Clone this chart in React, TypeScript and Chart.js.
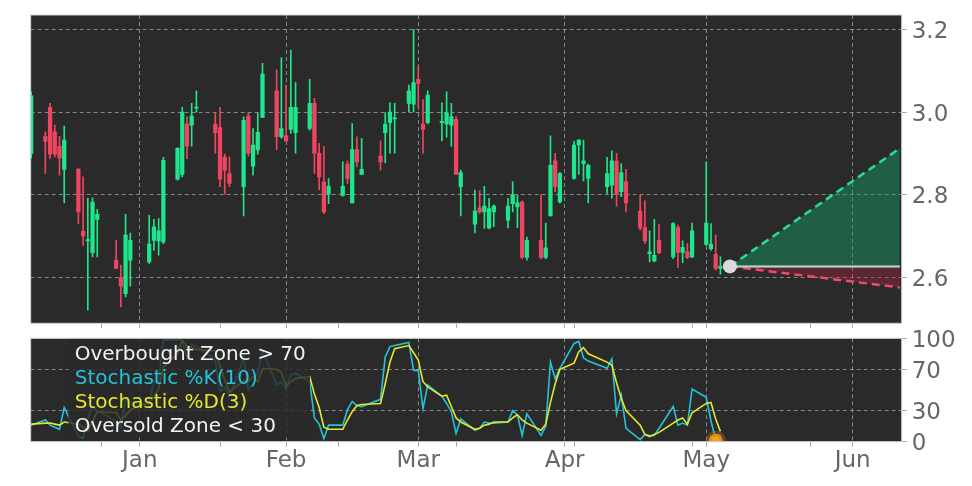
import React, { useEffect, useRef } from "react";
import { Chart, registerables } from "chart.js";

Chart.register(...registerables);

// ---------- data ----------
const dates = [
  "2022-12-09","2022-12-12","2022-12-13","2022-12-14","2022-12-15","2022-12-16",
  "2022-12-19","2022-12-20","2022-12-21","2022-12-22","2022-12-23",
  "2022-12-27","2022-12-28","2022-12-29","2022-12-30",
  "2023-01-03","2023-01-04","2023-01-05","2023-01-06",
  "2023-01-09","2023-01-10","2023-01-11","2023-01-12","2023-01-13",
  "2023-01-17","2023-01-18","2023-01-19","2023-01-20",
  "2023-01-23","2023-01-24","2023-01-25","2023-01-26","2023-01-27",
  "2023-01-30","2023-01-31","2023-02-01","2023-02-02","2023-02-03",
  "2023-02-06","2023-02-07","2023-02-08","2023-02-09","2023-02-10",
  "2023-02-13","2023-02-14","2023-02-15","2023-02-16","2023-02-17",
  "2023-02-21","2023-02-22","2023-02-23","2023-02-24",
  "2023-02-27","2023-02-28","2023-03-01","2023-03-02","2023-03-03",
  "2023-03-06","2023-03-07","2023-03-08","2023-03-09","2023-03-10",
  "2023-03-13","2023-03-14","2023-03-15","2023-03-16","2023-03-17",
  "2023-03-20","2023-03-21","2023-03-22","2023-03-23","2023-03-24",
  "2023-03-27","2023-03-28","2023-03-29","2023-03-30","2023-03-31",
  "2023-04-03","2023-04-04","2023-04-05","2023-04-06",
  "2023-04-10","2023-04-11","2023-04-12","2023-04-13","2023-04-14",
  "2023-04-17","2023-04-18","2023-04-19","2023-04-20","2023-04-21",
  "2023-04-24","2023-04-25","2023-04-26","2023-04-27","2023-04-28",
  "2023-05-01","2023-05-02","2023-05-03","2023-05-04",
];

const opens = [
  2.900,2.942,3.012,2.953,2.918,2.862,
  2.863,2.712,2.689,2.660,2.741,
  2.642,2.600,2.561,2.642,
  2.638,2.690,2.689,2.686,
  2.838,2.850,2.972,2.969,3.010,
  2.972,2.963,2.892,2.852,
  2.820,2.991,2.870,2.909,2.988,
  3.052,2.941,2.943,2.959,2.951,
  2.961,3.022,2.901,2.832,2.802,
  2.799,2.875,2.781,2.910,2.850,
  2.894,2.951,2.975,2.984,
  3.022,3.020,3.080,2.972,2.975,
  2.975,2.972,2.969,2.983,2.820,
  2.729,2.769,2.759,2.720,2.759,
  2.739,2.779,2.771,2.783,2.649,
  2.690,2.649,2.749,2.883,2.783,
  2.840,2.921,2.876,2.840,
  2.820,2.824,2.882,2.808,2.832,
  2.761,2.721,2.658,2.640,2.690,
  2.650,2.721,2.661,2.662,2.650,
  2.680,2.670,2.656,2.622,
];

const highs = [
  3.050,2.953,3.022,2.969,2.942,2.967,
  2.864,2.844,2.792,2.793,2.765,
  2.690,2.630,2.753,2.708,
  2.751,2.741,2.743,2.891,
  2.915,3.012,2.989,3.022,3.052,
  2.998,3.012,2.899,2.892,
  2.989,2.998,2.961,2.998,3.119,
  3.103,3.132,3.066,3.151,3.072,
  3.080,3.034,2.925,2.917,2.840,
  2.880,2.883,2.973,2.941,2.937,
  2.931,2.999,3.023,3.022,
  3.066,3.201,3.111,3.031,3.052,
  3.023,3.050,3.022,2.990,2.860,
  2.812,2.810,2.821,2.792,2.776,
  2.792,2.832,2.800,2.786,2.698,
  2.801,2.732,2.943,2.901,2.855,
  2.930,2.935,2.933,2.875,
  2.891,2.907,2.901,2.876,2.862,
  2.800,2.786,2.713,2.741,2.729,
  2.733,2.727,2.689,2.682,2.732,
  2.880,2.731,2.703,2.650,
];

const lows = [
  2.890,2.852,2.888,2.892,2.848,2.781,
  2.731,2.678,2.521,2.650,2.650,
  2.622,2.529,2.553,2.579,
  2.634,2.666,2.654,2.682,
  2.836,2.844,2.888,2.918,3.001,
  2.901,2.820,2.802,2.820,
  2.749,2.894,2.848,2.899,2.988,
  2.910,2.937,2.929,2.949,2.901,
  2.957,2.852,2.812,2.755,2.779,
  2.797,2.828,2.781,2.868,2.850,
  2.860,2.878,2.901,2.901,
  3.001,3.001,3.012,2.901,2.972,
  2.931,2.940,2.918,2.850,2.749,
  2.708,2.755,2.719,2.718,2.723,
  2.720,2.759,2.721,2.645,2.642,
  2.645,2.645,2.749,2.808,2.780,
  2.838,2.850,2.834,2.781,
  2.804,2.792,2.773,2.796,2.759,
  2.715,2.682,2.638,2.638,2.657,
  2.646,2.624,2.636,2.646,2.648,
  2.678,2.666,2.618,2.608,
];

const closes = [
  3.040,2.930,2.899,2.899,2.890,2.933,
  2.759,2.701,2.692,2.783,2.753,
  2.622,2.579,2.703,2.690,
  2.681,2.723,2.713,2.884,
  2.913,3.001,2.918,2.991,3.013,
  2.951,2.838,2.860,2.828,
  2.981,2.901,2.921,2.952,3.093,
  2.941,2.961,2.931,3.012,3.012,
  3.022,2.901,2.844,2.759,2.821,
  2.821,2.840,2.910,2.880,2.862,
  2.880,2.972,3.001,2.987,
  3.052,3.072,3.070,2.959,3.042,
  2.978,2.999,2.990,2.850,2.854,
  2.761,2.759,2.773,2.767,2.773,
  2.773,2.801,2.781,2.649,2.690,
  2.649,2.672,2.872,2.820,2.852,
  2.921,2.933,2.883,2.872,
  2.852,2.883,2.802,2.854,2.781,
  2.720,2.689,2.662,2.654,2.660,
  2.731,2.661,2.673,2.649,2.713,
  2.732,2.681,2.622,2.627,
];

const stochK = [
  16,21,16,14,12,33,
  5,4,22,34,30,
  20,13,41,38,
  36,59,59,98,
  99,98,80,94,92,
  79,49,52,44,
  81,50,57,67,88,
  55,58,50,65,66,
  58,23,17,3,16,
  16,31,39,35,34,
  41,82,92,93,
  96,69,69,32,55,
  44,37,29,8,22,
  11,13,19,18,18,
  19,30,26,6,27,
  6,15,77,61,71,
  95,97,81,78,
  71,80,27,45,13,
  2,7,6,6,13,
  34,16,18,16,51,
  43,20,2,7,
];

const stochD = [
  17,18,18,17,16,19,
  17,14,10,20,29,
  28,21,25,31,
  38,44,51,72,
  85,98,92,91,89,
  88,73,60,48,
  59,58,63,58,71,
  70,67,54,58,61,
  63,46,33,14,12,
  12,21,29,35,36,
  37,56,77,90,
  93,86,79,58,53,
  44,45,34,23,19,
  12,13,16,17,19,
  19,23,26,21,18,
  11,17,38,56,70,
  76,87,91,85,
  77,74,57,42,30,
  16,7,5,7,9,
  18,21,23,17,28,
  37,38,22,10,
];

const forecastDates = ["2023-05-06", "2023-06-11"];
const forecastUpper = [2.627, 2.913];
const forecastMid = [2.627, 2.627];
const forecastLower = [2.627, 2.576];

const signalDates = ["2023-05-03"];
const signalValues = [1];

const monthTickDates = ["2023-01-01","2023-02-01","2023-03-01","2023-04-01","2023-05-01","2023-06-01"];
const monthTickLabels = ["Jan","Feb","Mar","Apr","May","Jun"];
const minorTickDates = ["2022-12-24","2023-01-18","2023-02-12","2023-03-09","2023-04-03","2023-04-28","2023-05-23"];

const priceTicks = [2.6, 2.8, 3.0, 3.2];
const priceRange = [2.4892, 3.2359];
const stochTicks = [0, 30, 70, 100];
const stochRange = [0, 100];
const xDayRange = [-23.1, 161.4];

const legendLabels = ["Overbought Zone > 70", "Stochastic %K(10)", "Stochastic %D(3)", "Oversold Zone < 30"];

// ---------- style ----------
const FONT = "'DejaVu Sans', sans-serif";
const PANEL_BG = "#2a2a2a";
const GRID = "rgba(190,190,190,0.62)";
const FRAME = "#d2d2d2";
const TICK_MARK = "#a8a8a8";
const TICK_TEXT = "#666666";
const UP = "#1fe58c";
const DOWN = "#ef4560";
const K_COLOR = "#25c3da";
const D_COLOR = "#e3e82c";
const legendColors = ["#f2f2f2", K_COLOR, D_COLOR, "#f2f2f2"];

const DAY_MS = 86400000;
const BASE = Date.parse("2023-01-01T00:00:00Z");
const toDay = (s: string) => (Date.parse(s + "T00:00:00Z") - BASE) / DAY_MS;

const monthDays = monthTickDates.map(toDay);
const minorDays = minorTickDates.map(toDay);

const zeroPadding = (s: any) => {
  s.paddingTop = 0;
  s.paddingBottom = 0;
  s.paddingLeft = 0;
  s.paddingRight = 0;
};

const panelPlugin = {
  id: "panelFrame",
  beforeDraw(chart: any) {
    const { ctx, chartArea: a } = chart;
    ctx.save();
    ctx.fillStyle = PANEL_BG;
    ctx.fillRect(a.left, a.top, a.right - a.left, a.bottom - a.top);
    ctx.restore();
  },
  afterDraw(chart: any) {
    const { ctx, chartArea: a } = chart;
    ctx.save();
    ctx.strokeStyle = FRAME;
    ctx.lineWidth = 1;
    ctx.strokeRect(a.left, a.top, a.right - a.left, a.bottom - a.top);
    ctx.restore();
  },
};

const legendPlugin = {
  id: "stochLegend",
  afterDatasetsDraw(chart: any) {
    const { ctx, chartArea: a } = chart;
    ctx.save();
    ctx.fillStyle = "rgba(42,42,42,0.82)";
    ctx.fillRect(a.left + 37.6, a.top, 241.7, 99.5);
    ctx.font = "20px " + FONT;
    ctx.textBaseline = "alphabetic";
    ctx.textAlign = "left";
    legendLabels.forEach((t, i) => {
      ctx.fillStyle = legendColors[i];
      ctx.fillText(t, a.left + 44, a.top + 21.7 + i * 24.1);
    });
    ctx.restore();
  },
};

const makeXScale = (showLabels: boolean, axisHeight: number) => ({
  type: "linear",
  min: xDayRange[0],
  max: xDayRange[1],
  offset: false,
  afterBuildTicks: (s: any) => {
    s.ticks = [...monthDays, ...minorDays].sort((a, b) => a - b).map((v) => ({ value: v }));
  },
  afterFit: (s: any) => {
    s.height = axisHeight;
    zeroPadding(s);
  },
  ticks: {
    display: showLabels,
    autoSkip: false,
    maxRotation: 0,
    minRotation: 0,
    padding: 1,
    color: TICK_TEXT,
    font: { family: FONT, size: 23 },
    callback: (v: number) => {
      const i = monthDays.findIndex((m) => Math.abs(m - v) < 1e-6);
      return i >= 0 ? monthTickLabels[i] : "";
    },
  },
  grid: {
    offset: false,
    drawTicks: true,
    tickLength: 5,
    tickColor: TICK_MARK,
    lineWidth: 1,
    color: (c: any) => {
      const v = c.tick ? c.tick.value : NaN;
      return monthDays.some((m) => Math.abs(m - v) < 1e-6) ? GRID : "rgba(0,0,0,0)";
    },
  },
  border: { display: false, dash: [4, 3] },
});

const makeYScale = (range: number[], ticks: number[], fmt: (v: number) => string) => ({
  type: "linear",
  position: "right",
  min: range[0],
  max: range[1],
  afterBuildTicks: (s: any) => {
    s.ticks = ticks.map((v) => ({ value: v }));
  },
  afterFit: (s: any) => {
    s.width = 70.3;
    zeroPadding(s);
  },
  ticks: {
    padding: 5,
    labelOffset: 2.5,
    color: TICK_TEXT,
    font: { family: FONT, size: 23 },
    callback: (v: number) => fmt(v),
  },
  grid: {
    drawTicks: true,
    tickLength: 5,
    tickColor: TICK_MARK,
    color: GRID,
    lineWidth: 1,
  },
  border: { display: false, dash: [4, 3] },
});

function topConfig(): any {
  const candleColors = closes.map((c, i) => (c >= opens[i] ? UP : DOWN));
  return {
    type: "line",
    data: {
      datasets: [
        {
          type: "line",
          label: "last",
          data: [{ x: toDay(forecastDates[0]), y: forecastMid[0] }],
          showLine: false,
          pointRadius: 7,
          pointBackgroundColor: "#dadada",
          pointBorderWidth: 0,
          order: 0,
        },
        {
          type: "line",
          label: "upper",
          data: forecastDates.map((d, i) => ({ x: toDay(d), y: forecastUpper[i] })),
          borderColor: "#2bdc98",
          borderWidth: 2.5,
          borderDash: [8, 5],
          pointRadius: 0,
          fill: "+1",
          backgroundColor: "rgba(20,160,100,0.45)",
          order: 1,
        },
        {
          type: "line",
          label: "mid",
          data: forecastDates.map((d, i) => ({ x: toDay(d), y: forecastMid[i] })),
          borderColor: "#e4e4e4",
          borderWidth: 2.3,
          pointRadius: 0,
          fill: false,
          order: 1,
        },
        {
          type: "line",
          label: "lower",
          data: forecastDates.map((d, i) => ({ x: toDay(d), y: forecastLower[i] })),
          borderColor: "#ec4d6c",
          borderWidth: 2.5,
          borderDash: [8, 5],
          pointRadius: 0,
          fill: "-1",
          backgroundColor: "rgba(170,35,60,0.38)",
          order: 1,
        },
        {
          type: "bar",
          label: "body",
          data: dates.map((d, i) => ({ x: toDay(d), y: [opens[i], closes[i]] })),
          backgroundColor: candleColors,
          borderWidth: 0,
          barThickness: 3.6,
          minBarLength: 1.3,
          grouped: false,
          order: 3,
        },
        {
          type: "bar",
          label: "wick",
          data: dates.map((d, i) => ({ x: toDay(d), y: [lows[i], highs[i]] })),
          backgroundColor: candleColors,
          borderWidth: 0,
          barThickness: 1,
          grouped: false,
          order: 4,
        },
      ],
    },
    options: {
      animation: false,
      responsive: false,
      maintainAspectRatio: false,
      events: [],
      layout: { padding: { left: 30.7, top: 15, right: 0, bottom: 0 } },
      plugins: { legend: { display: false }, tooltip: { enabled: false } },
      scales: {
        x: makeXScale(false, 11.7),
        y: makeYScale(priceRange, priceTicks, (v) => v.toFixed(1)),
      },
    },
    plugins: [panelPlugin],
  };
}

function bottomConfig(): any {
  return {
    type: "line",
    data: {
      datasets: [
        {
          label: "signal",
          data: signalDates.map((d, i) => ({ x: toDay(d), y: signalValues[i] })),
          showLine: false,
          pointRadius: 7,
          pointBackgroundColor: "#f6a21c",
          pointBorderColor: "rgba(190,110,30,0.4)",
          pointBorderWidth: 6,
          clip: 0,
          order: 0,
        },
        {
          label: "Stochastic %D(3)",
          data: dates.map((d, i) => ({ x: toDay(d), y: stochD[i] })),
          borderColor: D_COLOR,
          borderWidth: 1.6,
          pointRadius: 0,
          tension: 0,
          fill: false,
          order: 1,
        },
        {
          label: "Stochastic %K(10)",
          data: dates.map((d, i) => ({ x: toDay(d), y: stochK[i] })),
          borderColor: K_COLOR,
          borderWidth: 1.6,
          pointRadius: 0,
          tension: 0,
          fill: false,
          order: 2,
        },
      ],
    },
    options: {
      animation: false,
      responsive: false,
      maintainAspectRatio: false,
      events: [],
      layout: { padding: { left: 30.7, top: 13.3, right: 0, bottom: 0 } },
      plugins: { legend: { display: false }, tooltip: { enabled: false } },
      scales: {
        x: makeXScale(true, 44.3),
        y: makeYScale(stochRange, stochTicks, (v) => String(Math.round(v))),
      },
    },
    plugins: [panelPlugin, legendPlugin],
  };
}

export default function App() {
  const topRef = useRef<HTMLCanvasElement>(null);
  const botRef = useRef<HTMLCanvasElement>(null);

  useEffect(() => {
    Chart.defaults.font.family = FONT;
    const c1 = new Chart(topRef.current as HTMLCanvasElement, topConfig());
    const c2 = new Chart(botRef.current as HTMLCanvasElement, bottomConfig());
    return () => {
      c1.destroy();
      c2.destroy();
    };
  }, []);

  return (
    <div
      style={{
        position: "fixed",
        left: 0,
        top: 0,
        width: 972,
        height: 486,
        background: "#ffffff",
        overflow: "hidden",
      }}
    >
      <canvas ref={topRef} width={972} height={335} style={{ position: "absolute", left: 0, top: 0 }} />
      <canvas ref={botRef} width={972} height={161} style={{ position: "absolute", left: 0, top: 325 }} />
    </div>
  );
}
